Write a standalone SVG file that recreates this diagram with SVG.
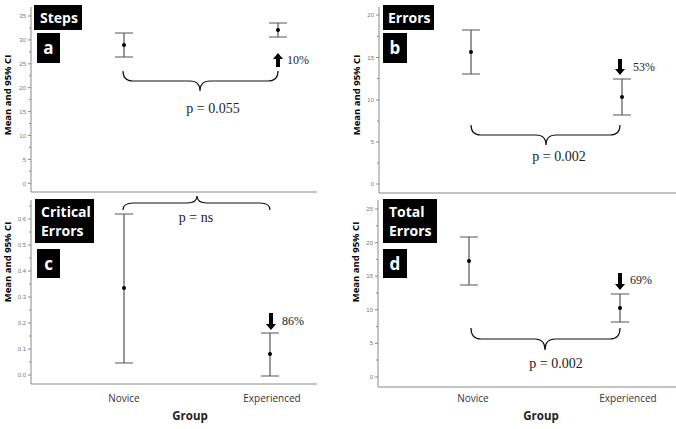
<svg xmlns="http://www.w3.org/2000/svg" width="676" height="429" viewBox="0 0 676 429">
<style>
.ax{stroke:#888;stroke-width:1;fill:none}
.tk{font-family:"Liberation Sans",Arial,sans-serif;font-size:6px;fill:#777;text-anchor:end}
.eb{stroke:#555;stroke-width:1.2;fill:none}
.br{stroke:#111;stroke-width:1.2;fill:none}
.pt{fill:#000}
.ttl{font-family:"Open Sans","DejaVu Sans",sans-serif;font-weight:bold;font-size:14px;fill:#fff}
.lbl{font-family:"Open Sans","DejaVu Sans",sans-serif;font-weight:bold;font-size:17px;fill:#fff;text-anchor:middle}
.yl{font-family:"Open Sans","DejaVu Sans",sans-serif;font-weight:bold;font-size:9.5px;fill:#000;text-anchor:middle}
.pv{font-family:"Liberation Serif","Times New Roman",serif;font-size:14px;fill:#222;text-anchor:middle}
.pc{font-family:"Liberation Serif","Times New Roman",serif;font-size:12px;fill:#222}
.gx{font-family:"Open Sans","DejaVu Sans",sans-serif;font-size:10px;fill:#333;text-anchor:middle}
.gr{font-family:"Open Sans","DejaVu Sans",sans-serif;font-weight:bold;font-size:11.5px;fill:#222;text-anchor:middle}
</style>
<rect width="676" height="429" fill="#fff"/>

<g id="panel-a">
<path class="ax" d="M31,7 V192 H317"/>
<g class="ax"><path d="M28,183.3h3M29,171.3h2M28,159.4h3M29,147.4h2M28,135.5h3M29,123.5h2M28,111.6h3M29,99.6h2M28,87.7h3M29,75.7h2M28,63.8h3M29,51.8h2M28,39.9h3M29,27.9h2M28,16h3"/></g>
<g class="tk"><text x="26" y="185.5">0</text><text x="26" y="161.6">5</text><text x="26" y="137.7">10</text><text x="26" y="113.8">15</text><text x="26" y="89.9">20</text><text x="26" y="66">25</text><text x="26" y="42.1">30</text><text x="26" y="18.2">35</text></g>
<text class="yl" transform="translate(11,95) rotate(-90)">Mean and 95% CI</text>
<rect x="34" y="5" width="48" height="25" fill="#000"/><text class="ttl" x="40" y="23">Steps</text>
<rect x="37" y="33" width="23" height="30" fill="#000"/><text class="lbl" x="48.5" y="54">a</text>
<path class="eb" d="M124,33V57M115,33h18M115,57h18M278,23V37M269,23h18M269,37h18"/>
<circle class="pt" cx="124" cy="45" r="2"/><circle class="pt" cx="278" cy="30" r="2"/>
<path d="M278,53 L273,59 L276,59 L276,67 L280,67 L280,59 L283,59 Z" fill="#000"/>
<text class="pc" x="287" y="64">10%</text>
<path class="br" d="M123,71 Q123,81 133,81 L190,81 Q200,81 200,91 Q200,81 210,81 L268,81 Q278,81 278,71"/>
<text class="pv" x="213" y="113">p = 0.055</text>
</g>

<g id="panel-b">
<path class="ax" d="M379,7 V193 H676"/>
<g class="ax"><path d="M376,184h3M377,163h2M376,142h3M377,121h2M376,100h3M377,78.5h2M376,57.5h3M377,36.5h2M376,15h3"/></g>
<g class="tk"><text x="374" y="186">0</text><text x="374" y="144">5</text><text x="374" y="102">10</text><text x="374" y="59.5">15</text><text x="374" y="17">20</text></g>
<text class="yl" transform="translate(360,95) rotate(-90)">Mean and 95% CI</text>
<rect x="383" y="5" width="51" height="25" fill="#000"/><text class="ttl" x="388" y="23">Errors</text>
<rect x="383" y="33" width="24" height="30" fill="#000"/><text class="lbl" x="395" y="54">b</text>
<path class="eb" d="M471,30V74M462,30h18M462,74h18M622,79V115M613,79h18M613,115h18"/>
<circle class="pt" cx="471" cy="52" r="2"/><circle class="pt" cx="622" cy="97" r="2"/>
<path d="M620,75 L615,69 L618,69 L618,59 L622,59 L622,69 L625,69 Z" fill="#000"/>
<text class="pc" x="633" y="71">53%</text>
<path class="br" d="M471,125 Q471,135 481,135 L536,135 Q546,135 546,145 Q546,135 556,135 L610,135 Q620,135 620,125"/>
<text class="pv" x="559" y="161">p = 0.002</text>
</g>

<g id="panel-c">
<path class="ax" d="M31,200 V384 H317"/>
<g class="ax"><path d="M28,375h3M29,362h2M28,349h3M29,336h2M28,323h3M29,310h2M28,297h3M29,284h2M28,271h3M29,258h2M28,245h3M29,232h2M28,219h3M29,206h2"/></g>
<g class="tk"><text x="26" y="377">0.0</text><text x="26" y="351">0.1</text><text x="26" y="325">0.2</text><text x="26" y="299">0.3</text><text x="26" y="273">0.4</text><text x="26" y="247">0.5</text><text x="26" y="221">0.6</text></g>
<text class="yl" transform="translate(11,262) rotate(-90)">Mean and 95% CI</text>
<rect x="35" y="199" width="59" height="44" fill="#000"/><text class="ttl" x="41" y="217">Critical</text><text class="ttl" x="41" y="236">Errors</text>
<rect x="37" y="249" width="23" height="29" fill="#000"/><text class="lbl" x="48.5" y="270">c</text>
<path class="eb" d="M124,214V363M115,214h18M115,363h18M270,333V376M261,333h18M261,376h18"/>
<circle class="pt" cx="124" cy="288" r="2"/><circle class="pt" cx="270" cy="354" r="2"/>
<path d="M271,330 L266,324 L269,324 L269,313 L273,313 L273,324 L276,324 Z" fill="#000"/>
<text class="pc" x="282" y="325">86%</text>
<path class="br" d="M123,210 Q123,203 133,203 L187,203 Q197,203 197,196 Q197,203 207,203 L260,203 Q270,203 270,210"/>
<text class="pv" x="196" y="222">p = ns</text>
<text class="gx" x="124" y="402">Novice</text><text class="gx" x="272" y="402">Experienced</text>
<text class="gr" x="190" y="420">Group</text>
</g>

<g id="panel-d">
<path class="ax" d="M378,200 V387 H676"/>
<g class="ax"><path d="M375,377h3M376,360h2M375,343.4h3M376,326.6h2M375,309.8h3M376,293h2M375,276.2h3M376,259.4h2M375,242.6h3M376,225.8h2M375,209h3"/></g>
<g class="tk"><text x="373" y="379">0</text><text x="373" y="345.4">5</text><text x="373" y="311.8">10</text><text x="373" y="278.2">15</text><text x="373" y="244.6">20</text><text x="373" y="211">25</text></g>
<text class="yl" transform="translate(359,262) rotate(-90)">Mean and 95% CI</text>
<rect x="383" y="199" width="54" height="44" fill="#000"/><text class="ttl" x="389" y="217">Total</text><text class="ttl" x="389" y="236">Errors</text>
<rect x="383" y="249" width="24" height="29" fill="#000"/><text class="lbl" x="395" y="270">d</text>
<path class="eb" d="M469,237V285M460,237h18M460,285h18M620,294V322M611,294h18M611,322h18"/>
<circle class="pt" cx="469" cy="261" r="2"/><circle class="pt" cx="620" cy="308" r="2"/>
<path d="M620,290 L615,284 L618,284 L618,273 L622,273 L622,284 L625,284 Z" fill="#000"/>
<text class="pc" x="630" y="284">69%</text>
<path class="br" d="M471,328 Q471,339 481,339 L535,339 Q545,339 545,350 Q545,339 555,339 L610,339 Q620,339 620,328"/>
<text class="pv" x="556" y="368">p = 0.002</text>
<text class="gx" x="473" y="402">Novice</text><text class="gx" x="628" y="402">Experienced</text>
<text class="gr" x="541" y="420">Group</text>
</g>
</svg>
